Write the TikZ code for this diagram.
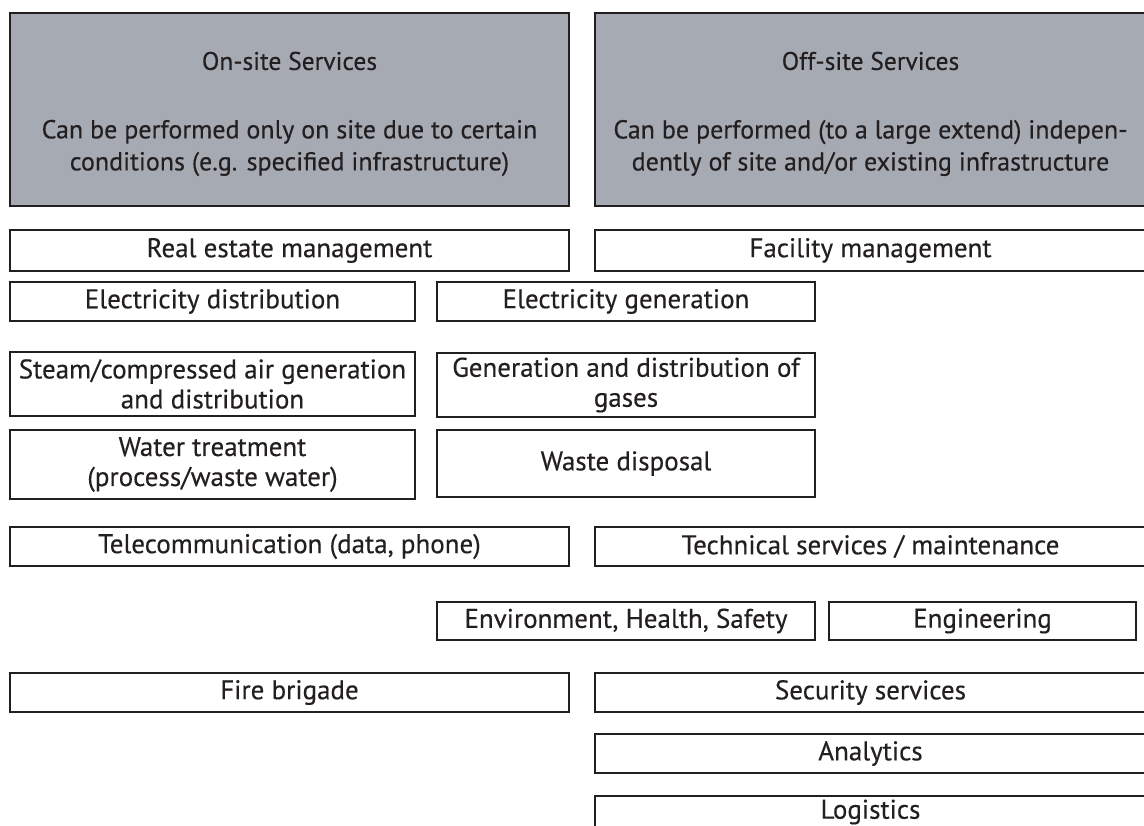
\documentclass[tikz,border=0pt]{standalone}
\usepackage{fontspec}
\setmainfont{PT Sans}[FakeBold=0.35]
\definecolor{ink}{HTML}{231F20}
\definecolor{headgray}{HTML}{A6ABB3}
\begin{document}
\begin{tikzpicture}[x=1pt,y=-1pt,
  box/.style={draw=ink,line width=2.6pt,rectangle,inner sep=0pt,text=ink,align=center,
    font=\fontsize{27}{30}\selectfont},
  headbox/.style={box,fill=headgray},
  headtitle/.style={text=ink,inner sep=0pt,font=\fontsize{25.5}{30}\selectfont},
  headtext/.style={text=ink,inner sep=0pt,align=center,font=\fontsize{26}{32}\selectfont}]
\useasboundingbox (0,0) rectangle (1144,826);
\clip (0,0) rectangle (1144,826);
% header boxes
\node[headbox,minimum width=559pt,minimum height=193pt] (onsite) at (289.5,109.5) {};
\node[headbox,minimum width=551pt,minimum height=193pt] (offsite) at (870.5,109.5) {};
\node[headtitle] (onsiteT) at (289.5,61) {On-site Services};
\node[headtitle] (offsiteT) at (870.5,61) {Off-site Services};
\node[headtext] (onsiteD) at (289.5,148) {Can be performed only on site due to certain\\conditions (e.g. specified infrastructure)};
\node[headtext] (offsiteD) at (870.5,148) {Can be performed (to a large extend) indepen-\\dently of site and/or existing infrastructure};
% rows
\node[box,minimum width=559pt,minimum height=41pt] (realestate) at (289.5,250.5) {Real estate management};
\node[box,minimum width=551pt,minimum height=41pt] (facility) at (870.5,250.5) {Facility management};
\node[box,minimum width=405pt,minimum height=39pt] (edist) at (212.5,301.5) {Electricity distribution};
\node[box,minimum width=378pt,minimum height=39pt] (egen) at (626,301.5) {Electricity generation};
\node[box,minimum width=405pt,minimum height=64pt] (steam) at (212.5,384) {Steam/compressed air generation\\and distribution};
\node[box,minimum width=378pt,minimum height=64pt] (gases) at (626,385) {Generation and distribution of\\gases};
\node[box,minimum width=405pt,minimum height=69pt] (water) at (212.5,464.5) {Water treatment\\(process/waste water)};
\node[box,minimum width=378pt,minimum height=67pt] (waste) at (626,463.5) {Waste disposal};
\node[box,minimum width=559pt,minimum height=39pt] (telecom) at (289.5,546.5) {Telecommunication (data, phone)};
\node[box,minimum width=551pt,minimum height=39pt] (tech) at (870.5,546.5) {Technical services / maintenance};
\node[box,minimum width=378pt,minimum height=38pt] (ehs) at (626,621) {Environment, Health, Safety};
\node[box,minimum width=307pt,minimum height=38pt] (eng) at (982.5,621) {Engineering};
\node[box,minimum width=559pt,minimum height=39pt] (fire) at (289.5,692.5) {Fire brigade};
\node[box,minimum width=551pt,minimum height=39pt] (security) at (870.5,692.5) {Security services};
\node[box,minimum width=551pt,minimum height=39pt] (analytics) at (870.5,753.5) {Analytics};
\node[box,minimum width=551pt,minimum height=32pt] (logistics) at (870.5,812) {Logistics};
\end{tikzpicture}
\end{document}
